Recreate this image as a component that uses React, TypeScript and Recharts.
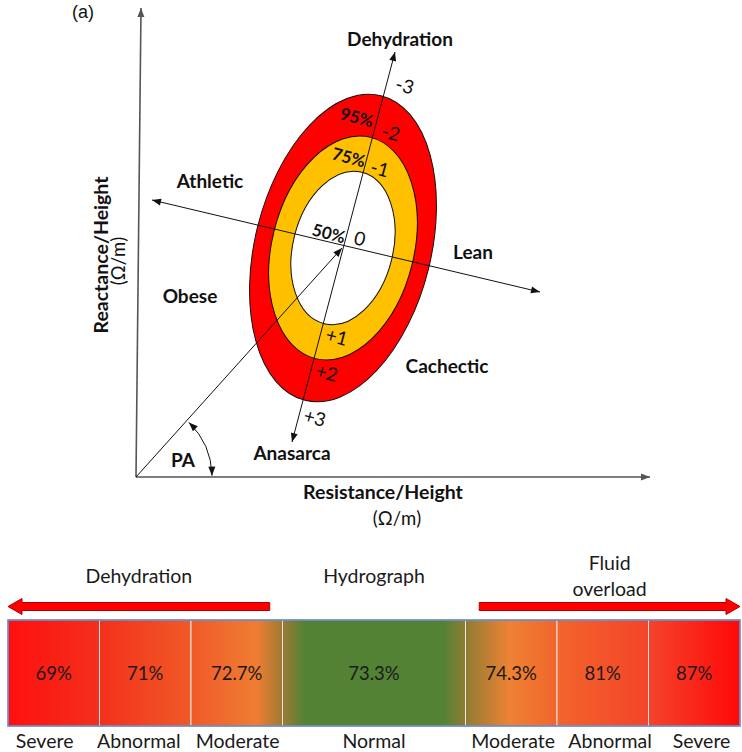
import React from "react";
import {
  ScatterChart,
  Scatter,
  XAxis,
  YAxis,
  ReferenceLine,
  BarChart,
  Bar,
  LabelList,
  ReferenceArea,
} from "recharts";

// ---------- (a) vector graph data (1 unit = 1 px on both axes) ----------
const meanVector = { R: 207, Xc: 229 };
const tolerance = [95, 75, 50];
const semiMajor = [157, 114, 78];
const semiMinor = [88, 71, 50];
const ellipseFill = ["#FF0000", "#FFC000", "#FFFFFF"];
const tilt = 14; // degrees, major axis lean

const zScores = ["-3", "-2", "-1", "0", "+1", "+2", "+3"];
const directions = ["Dehydration", "Anasarca", "Athletic", "Lean", "Obese", "Cachectic"];

// layout of annotations (units)
const zScorePos = [[269, 392], [255, 345], [244, 309], [224, 239], [201, 141], [191, 105], [179, 60]];
const tolPos = [[221, 360], [213, 320], [193, 244]];
const dirPos = [[264, 439], [156, 25], [74, 297], [337, 226], [54, 182], [311, 112]];

// axes and vectors: [x1, y1, x2, y2, double headed]
const vectors: [number, number, number, number, boolean][] = [
  [0, 0, 5, 469, false], // Xc/H axis
  [0, 0, 514, 0, false], // R/H axis
  [0, 0, meanVector.R - 1, meanVector.Xc, false],
  [156, 35, 259, 425, true], // hydration axis
  [16, 277, 404, 185, true], // tissue axis
];

// ---------- (b) hydrograph data ----------
const levels = ["Severe", "Abnormal", "Moderate", "Normal", "Moderate", "Abnormal", "Severe"];
const hydration = ["69%", "71%", "72.7%", "73.3%", "74.3%", "81%", "87%"];
const span = [1, 1, 1, 2, 1, 1, 1];
const levelTicks = [0.4, 1.43, 2.51, 4, 5.52, 6.58, 7.58];
const groups = ["Dehydration", "Hydrograph", "Fluid overload"];
const groupRange = [[0, 2.86], [3, 5], [5.15, 8]];

const FONT = "Lato, 'Open Sans', sans-serif";

const head = (x1: number, y1: number, x2: number, y2: number, len = 9, half = 3.5) => {
  const a = Math.atan2(y2 - y1, x2 - x1);
  const bx = x2 - len * Math.cos(a);
  const by = y2 - len * Math.sin(a);
  const px = -Math.sin(a) * half;
  const py = Math.cos(a) * half;
  return `M${x2},${y2} L${bx + px},${by + py} L${bx - px},${by - py} Z`;
};

const arrowLine = (both: boolean, stroke: string, width: number) => (p: any) => {
  const { x1, y1, x2, y2 } = p;
  return (
    <g>
      <line x1={x1} y1={y1} x2={x2} y2={y2} stroke={stroke} strokeWidth={width} />
      <path d={head(x1, y1, x2, y2)} fill={stroke} />
      {both && <path d={head(x2, y2, x1, y1)} fill={stroke} />}
    </g>
  );
};

const EllipseShape = (p: any) => {
  const { cx, cy, payload } = p;
  return (
    <ellipse
      cx={cx}
      cy={cy}
      rx={payload.minor}
      ry={payload.major}
      transform={`rotate(${tilt} ${cx} ${cy})`}
      fill={payload.fill}
      stroke="#111"
      strokeWidth={1}
    />
  );
};

const TextShape = (p: any) => {
  const { cx, cy, payload: d } = p;
  return (
    <text
      x={cx}
      y={cy}
      textAnchor="middle"
      dominantBaseline="central"
      fontFamily={d.font || FONT}
      fontSize={d.size}
      fontWeight={d.bold ? 700 : 400}
      fill="#111"
      transform={d.rot ? `rotate(${d.rot} ${cx} ${cy})` : undefined}
    >
      {d.text}
    </text>
  );
};

// phase angle arc drawn around the origin
const PhaseArc = (p: any) => {
  const { cx, cy } = p;
  const r = 76;
  const pa = Math.atan2(meanVector.Xc, meanVector.R);
  const a0 = (1 * Math.PI) / 180;
  const a1 = pa - (2 * Math.PI) / 180;
  const sx = cx + r * Math.cos(a0), sy = cy - r * Math.sin(a0);
  const ex = cx + r * Math.cos(a1), ey = cy - r * Math.sin(a1);
  return (
    <g>
      <path d={`M${sx},${sy} A${r},${r} 0 0 0 ${ex},${ey}`} fill="none" stroke="#111" strokeWidth={1} />
      <path d={head(sx - 10 * Math.sin(a0), sy - 10 * Math.cos(a0), sx, sy, 9, 3.5)} fill="#111" />
      <path d={head(ex + 10 * Math.sin(a1), ey + 10 * Math.cos(a1), ex, ey, 9, 3.5)} fill="#111" />
    </g>
  );
};

const ellipses = tolerance.map((t, i) => ({
  x: meanVector.R,
  y: meanVector.Xc,
  level: t,
  major: semiMajor[i],
  minor: semiMinor[i],
  fill: ellipseFill[i],
}));

const labels = [
  ...zScores.map((z, i) => ({ x: zScorePos[i][0], y: zScorePos[i][1], text: z, size: 19, rot: 15 })),
  ...tolerance.map((t, i) => ({ x: tolPos[i][0], y: tolPos[i][1], text: `${t}%`, size: 17, bold: true, rot: 15 })),
  ...directions.map((d, i) => ({ x: dirPos[i][0], y: dirPos[i][1], text: d, size: 19, bold: true })),
  { x: 247, y: -14, text: "Resistance/Height", size: 19.5, bold: true },
  { x: 261, y: -41, text: "(\u03A9/m)", size: 18.5 },
  { x: -36, y: 222, text: "Reactance/Height", size: 19.5, bold: true, rot: -90 },
  { x: -18, y: 216, text: "(\u03A9/m)", size: 18.5, rot: -90 },
  { x: 47, y: 18, text: "PA", size: 19, bold: true },
  { x: -53, y: 465, text: "(a)", size: 18, font: "'Liberation Sans', Arial, sans-serif" },
];

const hydroRow: Record<string, any> = { name: "hydrograph" };
span.forEach((s, i) => {
  hydroRow[`s${i}`] = s;
  hydroRow[`v${i}`] = hydration[i];
});

const GroupShape = (i: number) => (p: any) => {
  const { x, y, width } = p;
  const mid = x + width / 2;
  const ay = y - 13.5;
  const txt = (t: string, ty: number) => (
    <text key={t} x={mid} y={ty} textAnchor="middle" dominantBaseline="central" fontFamily={FONT} fontSize={19.5} fill="#1a1a1a">
      {t}
    </text>
  );
  let arrow = null;
  if (i !== 1) {
    const tip = i === 0 ? x : x + width;
    const tail = i === 0 ? x + width : x;
    const dir = i === 0 ? 1 : -1;
    const hl = 14;
    const d = `M${tip},${ay} L${tip + dir * hl},${ay - 8} L${tip + dir * hl},${ay - 4} L${tail},${ay - 4} L${tail},${ay + 4} L${tip + dir * hl},${ay + 4} L${tip + dir * hl},${ay + 8} Z`;
    arrow = <path d={d} fill="#FF0000" stroke="#B00000" strokeWidth={1} />;
  }
  return (
    <g>
      {arrow}
      {i === 2
        ? [txt("Fluid", y - 58), txt("overload", y - 32)]
        : txt(groups[i], y - 45)}
    </g>
  );
};

export default function App() {
  return (
    <div style={{ position: "absolute", left: 0, top: 0, width: 742, height: 752, background: "#fff" }}>
      <ScatterChart width={742} height={535} margin={{ top: 0, right: 0, bottom: 0, left: 0 }} style={{ fontFamily: FONT }}>
        <XAxis type="number" dataKey="x" domain={[-136, 606]} allowDataOverflow hide />
        <YAxis type="number" dataKey="y" domain={[-58, 477]} allowDataOverflow hide />
        <Scatter data={ellipses} shape={EllipseShape} isAnimationActive={false} zIndex={100} />
        {vectors.map((v, i) => (
          <ReferenceLine
            key={i}
            segment={[{ x: v[0], y: v[1] }, { x: v[2], y: v[3] }]}
            ifOverflow="visible"
            zIndex={700}
            shape={arrowLine(v[4], i < 2 ? "#555" : "#111", i < 2 ? 1.6 : 1)}
          />
        ))}
        <Scatter data={[{ x: 0, y: 0 }]} shape={PhaseArc} isAnimationActive={false} zIndex={750} />
        <Scatter data={labels} shape={TextShape} isAnimationActive={false} zIndex={800} />
      </ScatterChart>
      <BarChart
        width={742}
        height={217}
        layout="vertical"
        data={[hydroRow]}
        margin={{ top: 85, right: 2, bottom: 0, left: 8 }}
        barCategoryGap={0}
        style={{ fontFamily: FONT }}
      >
        <defs>
          <linearGradient id="hydroGrad" gradientUnits="userSpaceOnUse" x1={8} x2={740} y1={0} y2={0}>
            <stop offset="0" stopColor="#FF1010" />
            <stop offset="0.12" stopColor="#F42E1A" />
            <stop offset="0.25" stopColor="#F05A28" />
            <stop offset="0.34" stopColor="#EF7D32" />
            <stop offset="0.374" stopColor="#A07A33" />
            <stop offset="0.405" stopColor="#548235" />
            <stop offset="0.595" stopColor="#548235" />
            <stop offset="0.623" stopColor="#8C7D33" />
            <stop offset="0.685" stopColor="#EE8233" />
            <stop offset="0.75" stopColor="#F2652B" />
            <stop offset="0.875" stopColor="#F4442A" />
            <stop offset="1" stopColor="#FF0808" />
          </linearGradient>
        </defs>
        <XAxis
          type="number"
          domain={[0, 8]}
          ticks={levelTicks}
          allowDataOverflow
          axisLine={false}
          tickLine={false}
          height={26}
          interval={0}
          tickFormatter={(_v: number, i: number) => levels[i]}
          tick={{ fill: "#1a1a1a", fontSize: 19.5, fontFamily: FONT }}
        />
        <YAxis type="category" dataKey="name" hide />
        {span.map((_s, i) => (
          <Bar
            key={i}
            dataKey={`s${i}`}
            stackId="h"
            fill="url(#hydroGrad)"
            stroke="#E6E6E6"
            strokeWidth={1}
            isAnimationActive={false}
          >
            <LabelList dataKey={`v${i}`} position="center" fill="#1a1a1a" fontSize={18.5} fontFamily={FONT} />
          </Bar>
        ))}
        <ReferenceArea x1={0} x2={8} fill="none" stroke="#5A7FC6" strokeWidth={1.5} ifOverflow="visible" zIndex={900} />
        {groups.map((g, i) => (
          <ReferenceArea
            key={g}
            x1={groupRange[i][0]}
            x2={groupRange[i][1]}
            ifOverflow="visible"
            zIndex={900}
            shape={GroupShape(i)}
          />
        ))}
      </BarChart>
    </div>
  );
}
